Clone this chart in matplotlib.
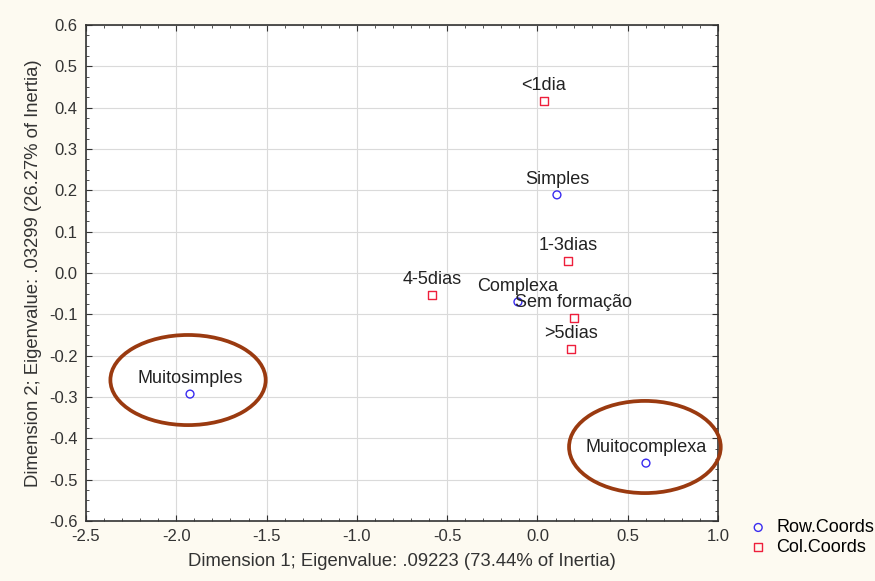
import numpy as np
import matplotlib.pyplot as plt
from matplotlib.patches import Ellipse
from matplotlib.ticker import MultipleLocator

plt.rcParams['font.family'] = ['Liberation Sans', 'DejaVu Sans']

# row coordinates (complexity)
row_labels = ['Simples', 'Complexa', 'Muitosimples', 'Muitocomplexa']
row_x = [0.108, -0.108, -1.924, 0.601]
row_y = [0.189, -0.070, -0.293, -0.460]

# column coordinates (training time)
col_labels = ['<1dia', '1-3dias', '4-5dias', 'Sem formação', '>5dias']
col_x = [0.036, 0.169, -0.584, 0.202, 0.186]
col_y = [0.416, 0.029, -0.053, -0.109, -0.184]

# highlighted groups: center x, center y, width, height
highlights = [(-1.935, -0.259, 0.86, 0.218),
              (0.595, -0.421, 0.84, 0.223)]

fig = plt.figure(figsize=(8.75, 5.81), dpi=100, facecolor='#fdfaf1')
ax = fig.add_axes([0.0983, 0.1033, 0.7223, 0.8537])
ax.set_facecolor('white')

ax.grid(True, color='#dadada', lw=0.8)
ax.set_axisbelow(True)

ax.scatter(row_x, row_y, marker='o', s=32, facecolors='none',
           edgecolors='#3a2cf0', linewidths=1.0, label='Row.Coords', zorder=3)
ax.scatter(col_x, col_y, marker='s', s=32, facecolors='none',
           edgecolors='#ee1f3c', linewidths=1.0, label='Col.Coords', zorder=3)

for lab, x, y in zip(row_labels, row_x, row_y):
    ax.annotate(lab, (x, y), xytext=(0, 5), textcoords='offset points',
                ha='center', va='bottom', fontsize=13, color='#222222')
for lab, x, y in zip(col_labels, col_x, col_y):
    ax.annotate(lab, (x, y), xytext=(0, 5), textcoords='offset points',
                ha='center', va='bottom', fontsize=13, color='#222222')

for cx, cy, w, h in highlights:
    ax.add_patch(Ellipse((cx, cy), w, h, fill=False, edgecolor='#9a3a10',
                         lw=2.7, zorder=4, clip_on=False))

ax.set_xlim(-2.5, 1.0)
ax.set_ylim(-0.6, 0.6)
ax.xaxis.set_major_locator(MultipleLocator(0.5))
ax.xaxis.set_minor_locator(MultipleLocator(0.1))
ax.yaxis.set_major_locator(MultipleLocator(0.1))
ax.yaxis.set_minor_locator(MultipleLocator(0.025))
ax.xaxis.set_major_formatter(plt.FormatStrFormatter('%.1f'))
ax.yaxis.set_major_formatter(plt.FormatStrFormatter('%.1f'))
ax.tick_params(which='both', direction='in', top=True, right=True,
               labelsize=12, colors='#333333', pad=6)
ax.tick_params(which='major', length=4)
ax.tick_params(which='minor', length=2)
for s in ax.spines.values():
    s.set_color('#333333')
    s.set_linewidth(1.2)

ax.set_xlabel('Dimension 1; Eigenvalue: .09223 (73.44% of Inertia)',
              fontsize=13.3, color='#333333', labelpad=6)
ax.set_ylabel('Dimension 2; Eigenvalue: .03299 (26.27% of Inertia)',
              fontsize=13.3, color='#333333', labelpad=5)

ax.legend(loc='lower left', bbox_to_anchor=(1.035, -0.085), frameon=False,
          fontsize=13, handletextpad=0.4, borderaxespad=0, labelspacing=0.15,
          handlelength=1.2)

fig.savefig('out.png', dpi=100, facecolor=fig.get_facecolor())
